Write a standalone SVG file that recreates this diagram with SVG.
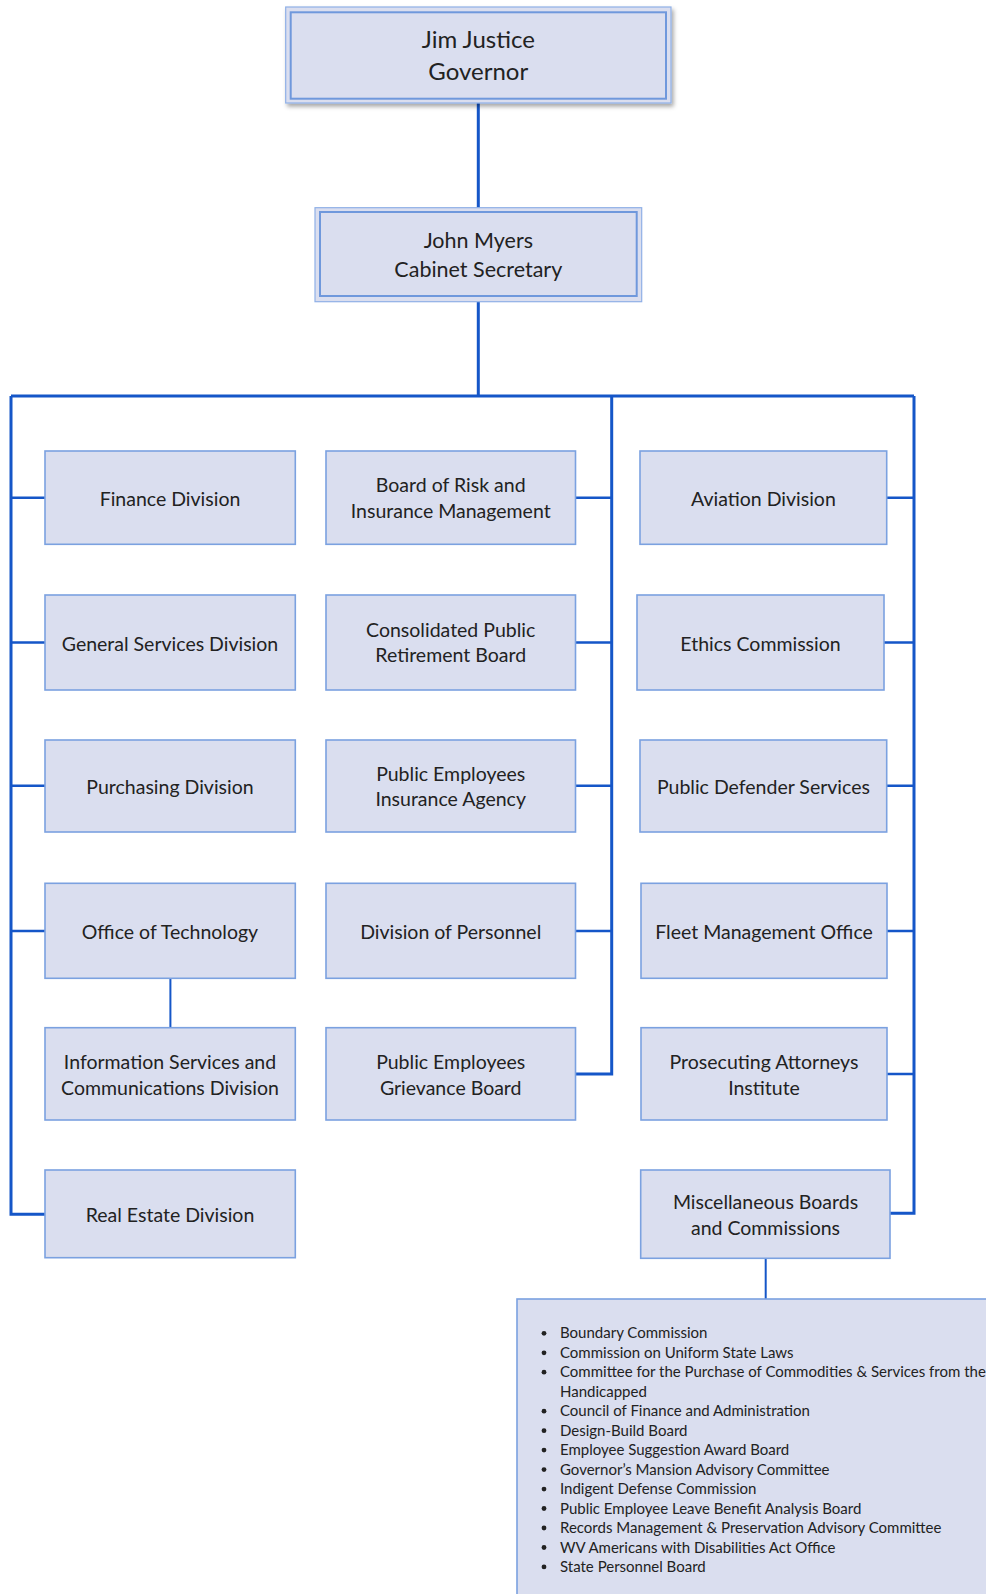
<svg xmlns="http://www.w3.org/2000/svg" width="986" height="1594" viewBox="0 0 986 1594">
<defs>
<style>
.box{fill:#dadeef;stroke:#7ba1e0;stroke-width:1.6}
.outer{fill:#dadeef;stroke:#8fb0e6;stroke-width:1.2}
.inner{fill:none;stroke:#6f98dc;stroke-width:2}
.t{font-family:Lato,"Open Sans",sans-serif;font-size:19.5px;fill:#222;text-anchor:middle}
.tt{font-family:Lato,"Open Sans",sans-serif;font-size:24px;fill:#222;text-anchor:middle}
.ts{font-family:Lato,"Open Sans",sans-serif;font-size:21.5px;fill:#222;text-anchor:middle}
.l{font-family:Lato,"Open Sans",sans-serif;font-size:15px;fill:#222}
.c{fill:none;stroke:#1556c8;stroke-width:3}
.c2{fill:none;stroke:#1556c8;stroke-width:2.5}
.c3{fill:none;stroke:#1556c8;stroke-width:2}
</style>
<filter id="sh" x="-5%" y="-10%" width="115%" height="130%">
<feDropShadow dx="2" dy="3" stdDeviation="2" flood-color="#000" flood-opacity="0.35"/>
</filter>
</defs>
<rect width="986" height="1594" fill="#fff"/>
<g id="connectors">
<path class="c" d="M478.3 103V208M478.3 301.7V396M11 396H914M11 396V1214.3H45M611.7 396V1074H575M914 396V1213.3H890"/>
<path class="c2" d="M11 497.7H45M11 642.5H45M11 785.7H45M11 931H45M575 497.7H611.7M575 642.5H611.7M575 785.7H611.7M575 931H611.7M887 497.7H914M884 642.5H914M887 785.7H914M887 931H914M887 1074H914"/>
<path class="c3" d="M170.4 978V1028M765.7 1258V1299"/>
</g>
<g id="governor">
<rect class="outer" x="285.7" y="7" width="385.3" height="96" filter="url(#sh)"/>
<rect class="inner" x="290.7" y="12.3" width="375.3" height="86.4"/>
<text class="tt" x="478.3" y="48.3">Jim Justice</text>
<text class="tt" x="478.3" y="80.3">Governor</text>
</g>
<g id="cabinet">
<rect class="outer" x="315" y="207.7" width="326.7" height="94"/>
<rect class="inner" x="320" y="212" width="316.7" height="84"/>
<text class="ts" x="478.3" y="248.3">John Myers</text>
<text class="ts" x="478.3" y="276.7">Cabinet Secretary</text>
</g>
<g id="finance"><rect class="box" x="45" y="451" width="250.3" height="93.3"/><text class="t" x="170" y="505.7">Finance Division</text></g>
<g id="general-services"><rect class="box" x="45" y="595" width="250.3" height="95"/><text class="t" x="170" y="650.5">General Services Division</text></g>
<g id="purchasing"><rect class="box" x="45" y="740" width="250.3" height="92"/><text class="t" x="170" y="793.7">Purchasing Division</text></g>
<g id="office-technology"><rect class="box" x="45" y="883.3" width="250.3" height="95"/><text class="t" x="170" y="939">Office of Technology</text></g>
<g id="info-services"><rect class="box" x="45" y="1027.7" width="250.3" height="92.3"/><text class="t" x="170" y="1069">Information Services and</text><text class="t" x="170" y="1095">Communications Division</text></g>
<g id="real-estate"><rect class="box" x="45" y="1170" width="250.3" height="87.7"/><text class="t" x="170" y="1222.3">Real Estate Division</text></g>

<g id="brim"><rect class="box" x="326" y="451" width="249.5" height="93.3"/><text class="t" x="450.7" y="492">Board of Risk and</text><text class="t" x="450.7" y="518">Insurance Management</text></g>
<g id="cprb"><rect class="box" x="326" y="595" width="249.5" height="95"/><text class="t" x="450.7" y="636.7">Consolidated Public</text><text class="t" x="450.7" y="662.3">Retirement Board</text></g>
<g id="peia"><rect class="box" x="326" y="740" width="249.5" height="92"/><text class="t" x="450.7" y="780.5">Public Employees</text><text class="t" x="450.7" y="806">Insurance Agency</text></g>
<g id="personnel"><rect class="box" x="326" y="883.3" width="249.5" height="95"/><text class="t" x="450.7" y="939">Division of Personnel</text></g>
<g id="grievance"><rect class="box" x="326" y="1027.7" width="249.5" height="92.3"/><text class="t" x="450.7" y="1069">Public Employees</text><text class="t" x="450.7" y="1095">Grievance Board</text></g>

<g id="aviation"><rect class="box" x="640" y="451" width="246.7" height="93.3"/><text class="t" x="763.4" y="505.7">Aviation Division</text></g>
<g id="ethics"><rect class="box" x="637" y="595" width="247" height="95"/><text class="t" x="760.5" y="650.5">Ethics Commission</text></g>
<g id="public-defender"><rect class="box" x="640" y="740" width="246.7" height="92"/><text class="t" x="763.4" y="793.7">Public Defender Services</text></g>
<g id="fleet"><rect class="box" x="641" y="883.3" width="246" height="95"/><text class="t" x="764" y="939">Fleet Management Office</text></g>
<g id="prosecuting"><rect class="box" x="641" y="1027.7" width="246" height="92.3"/><text class="t" x="764" y="1069">Prosecuting Attorneys</text><text class="t" x="764" y="1095">Institute</text></g>
<g id="misc"><rect class="box" x="640.7" y="1170" width="249.3" height="88.3"/><text class="t" x="765.5" y="1209">Miscellaneous Boards</text><text class="t" x="765.5" y="1235">and Commissions</text></g>

<g id="misc-list">
<rect class="box" x="517" y="1299" width="480" height="310"/>
<g fill="#222">
<circle cx="544" cy="1333.3" r="2.4"/><circle cx="544" cy="1352.8" r="2.4"/><circle cx="544" cy="1372.2" r="2.4"/><circle cx="544" cy="1411.2" r="2.4"/><circle cx="544" cy="1430.7" r="2.4"/><circle cx="544" cy="1450.1" r="2.4"/><circle cx="544" cy="1469.6" r="2.4"/><circle cx="544" cy="1489.1" r="2.4"/><circle cx="544" cy="1508.5" r="2.4"/><circle cx="544" cy="1528" r="2.4"/><circle cx="544" cy="1547.5" r="2.4"/><circle cx="544" cy="1566.9" r="2.4"/>
</g>
<text class="l" x="560" y="1338.3">Boundary Commission</text>
<text class="l" x="560" y="1357.8">Commission on Uniform State Laws</text>
<text class="l" x="560" y="1377.2">Committee for the Purchase of Commodities &amp; Services from the</text>
<text class="l" x="560" y="1396.7">Handicapped</text>
<text class="l" x="560" y="1416.2">Council of Finance and Administration</text>
<text class="l" x="560" y="1435.7">Design-Build Board</text>
<text class="l" x="560" y="1455.1">Employee Suggestion Award Board</text>
<text class="l" x="560" y="1474.6">Governor’s Mansion Advisory Committee</text>
<text class="l" x="560" y="1494.1">Indigent Defense Commission</text>
<text class="l" x="560" y="1513.5">Public Employee Leave Benefit Analysis Board</text>
<text class="l" x="560" y="1533">Records Management &amp; Preservation Advisory Committee</text>
<text class="l" x="560" y="1552.5">WV Americans with Disabilities Act Office</text>
<text class="l" x="560" y="1571.9">State Personnel Board</text>
</g>
</svg>
